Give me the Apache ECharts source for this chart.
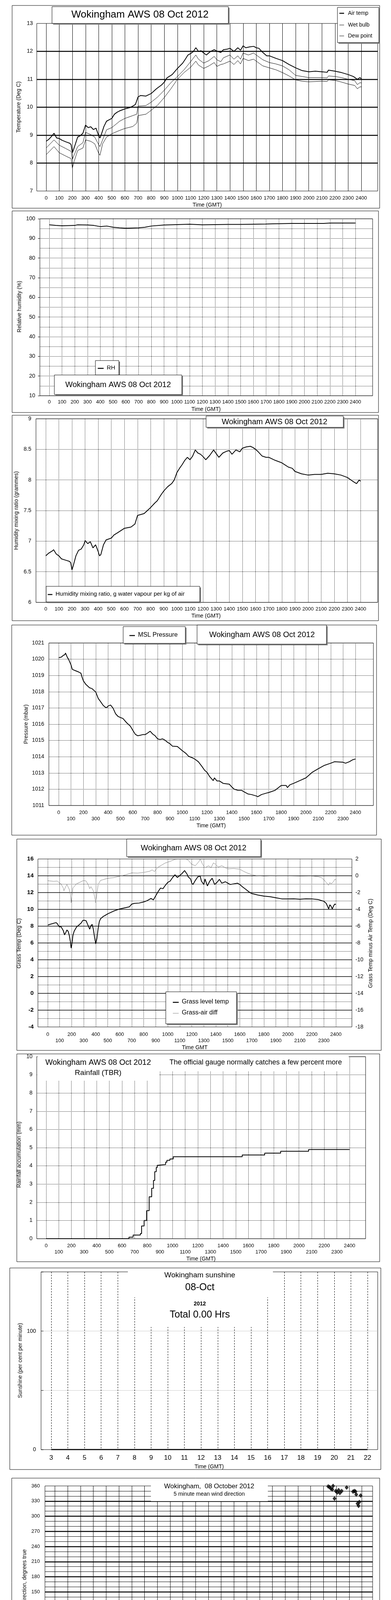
<!DOCTYPE html>
<html><head><meta charset="utf-8">
<script src="https://cdn.jsdelivr.net/npm/echarts@6/dist/echarts.min.js"></script>
<style>html,body{margin:0;padding:0;background:#fff}#c{width:1000px;height:5000px}</style>
</head><body><div id="c"></div>
<script>
// ---------------- DATA ----------------
// Panel 1: temperatures (time in HHMM-scale 0..2400)
const airTempTime = [0,20,40,60,80,100,120,150,180,190,200,210,240,260,280,300,320,340,360,380,400,410,420,440,460,480,500,520,540,560,600,640,660,680,700,720,760,800,840,880,900,920,960,1000,1040,1060,1080,1100,1120,1140,1160,1180,1200,1220,1250,1280,1300,1330,1350,1380,1400,1430,1460,1480,1500,1520,1550,1580,1600,1620,1650,1680,1700,1750,1800,1850,1900,1950,2000,2050,2100,2140,2150,2200,2250,2300,2340,2370,2390,2400];
const airTemp = [8.78,8.85,8.95,9.07,8.9,8.88,8.82,8.76,8.71,8.66,8.37,8.5,8.93,8.98,9.07,9.36,9.27,9.3,9.2,9.25,8.98,8.9,9.02,9.31,9.5,9.55,9.6,9.75,9.82,9.87,9.94,9.99,10.04,10.1,10.37,10.42,10.4,10.49,10.66,10.8,10.9,11.05,11.17,11.39,11.58,11.72,11.87,11.92,11.99,12.13,12.0,12.02,11.94,11.87,11.99,12.06,12.01,11.96,12.06,12.08,12.11,12.0,12.13,12.04,12.2,12.13,12.16,12.18,12.13,12.11,11.96,11.84,11.84,11.75,11.67,11.53,11.41,11.31,11.27,11.29,11.27,11.25,11.33,11.29,11.24,11.17,11.1,11.0,11.06,11.02];
const humidTime = [0,60,100,150,190,200,210,240,280,300,340,370,400,410,430,460,500,560,600,660,690,700,760,800,850,900,950,1000,1050,1100,1140,1160,1200,1240,1280,1300,1330,1350,1400,1430,1460,1480,1500,1540,1580,1600,1650,1700,1750,1800,1850,1900,1950,2000,2100,2140,2150,2200,2250,2300,2350,2370,2390,2400];
const wetBulb = [8.54,8.83,8.64,8.52,8.42,8.13,8.25,8.59,8.73,9.1,9.02,8.93,8.66,8.59,8.83,9.19,9.27,9.5,9.6,9.7,9.75,10.04,10.06,10.18,10.37,10.61,10.88,11.1,11.34,11.63,11.87,11.72,11.58,11.67,11.82,11.7,11.63,11.77,11.87,11.72,11.84,11.72,11.94,11.87,11.94,11.87,11.7,11.6,11.55,11.48,11.34,11.14,11.1,11.06,11.06,11.05,11.12,11.1,11.06,11.0,10.95,10.81,10.88,10.87];
const dewPoint = [8.3,8.59,8.37,8.25,8.16,7.82,8.01,8.45,8.54,8.83,8.78,8.69,8.35,8.28,8.69,8.93,9.05,9.17,9.24,9.31,9.43,9.7,9.75,9.89,10.08,10.35,10.66,11.0,11.24,11.43,11.65,11.51,11.39,11.48,11.6,11.46,11.53,11.55,11.65,11.53,11.67,11.55,11.75,11.67,11.72,11.65,11.48,11.41,11.34,11.24,11.12,10.98,10.93,10.91,10.93,10.92,10.98,10.96,10.9,10.83,10.78,10.66,10.73,10.73];
// Panel 2: relative humidity
const rhTime = [0,50,100,200,220,300,350,400,450,500,550,600,700,750,800,900,1000,1100,1200,1300,1400,1500,1600,1700,1750,1900,2150,2200,2400];
const rh = [96.9,96.6,96.4,96.6,96.9,96.8,96.6,96.0,96.3,95.7,95.4,95.2,95.4,95.7,96.3,96.8,97.0,97.2,96.9,97.0,97.1,97.1,97.2,97.3,97.4,97.6,97.6,97.8,97.8];
// Panel 3: humidity mixing ratio
const mixTime = [0,20,50,60,80,100,120,150,180,190,200,210,230,250,270,290,300,320,340,360,380,400,410,420,440,460,500,520,550,600,650,680,700,750,800,830,850,880,900,930,960,980,1000,1020,1040,1060,1080,1100,1120,1140,1160,1180,1200,1220,1250,1280,1300,1320,1350,1380,1400,1420,1450,1480,1500,1530,1560,1580,1600,1620,1650,1680,1700,1750,1800,1850,1880,1900,1950,2000,2050,2100,2150,2200,2250,2300,2340,2370,2390,2400];
const mixRatio = [6.76,6.80,6.84,6.86,6.79,6.76,6.71,6.69,6.67,6.65,6.53,6.60,6.76,6.85,6.87,6.94,7.01,6.96,6.99,6.89,6.94,6.83,6.76,6.78,6.94,7.02,7.05,7.10,7.14,7.21,7.23,7.28,7.42,7.45,7.55,7.62,7.66,7.76,7.82,7.89,7.94,8.0,8.12,8.19,8.25,8.32,8.37,8.33,8.39,8.49,8.44,8.42,8.38,8.33,8.40,8.49,8.43,8.37,8.44,8.47,8.48,8.42,8.49,8.46,8.52,8.54,8.55,8.53,8.50,8.46,8.39,8.37,8.37,8.32,8.28,8.21,8.19,8.14,8.10,8.08,8.09,8.09,8.11,8.1,8.08,8.04,7.98,7.94,8.0,7.98];
// Panel 4: MSL pressure
const presTime = [0,20,40,50,55,60,70,80,100,110,130,160,180,190,200,220,250,270,300,320,340,360,380,390,400,420,440,460,480,500,520,550,580,600,620,640,660,680,700,720,740,760,780,800,820,840,860,880,900,920,960,1000,1030,1050,1080,1100,1130,1160,1180,1200,1220,1250,1260,1280,1300,1330,1380,1400,1420,1450,1480,1500,1530,1560,1600,1610,1640,1680,1700,1750,1800,1840,1850,1870,1900,1950,2000,2050,2100,2150,2200,2230,2300,2320,2350,2380,2400];
const pressure = [1020.10,1020.12,1020.25,1020.28,1020.38,1020.30,1020.12,1020.0,1019.65,1019.38,1019.31,1019.22,1019.14,1018.88,1018.67,1018.45,1018.24,1018.19,1017.98,1017.59,1017.38,1017.16,1017.03,1017.03,1017.12,1017.18,1016.99,1016.65,1016.48,1016.41,1016.35,1016.09,1015.88,1015.62,1015.38,1015.29,1015.32,1015.36,1015.36,1015.46,1015.57,1015.40,1015.29,1015.10,1015.06,1015.10,1015.02,1014.89,1014.80,1014.65,1014.63,1014.37,1014.20,1014.03,1013.94,1013.86,1013.69,1013.39,1013.17,1013.04,1012.79,1012.53,1012.70,1012.51,1012.51,1012.36,1012.31,1012.14,1012.0,1011.93,1011.93,1011.84,1011.71,1011.67,1011.58,1011.54,1011.67,1011.76,1011.80,1011.93,1012.23,1012.23,1012.10,1012.27,1012.36,1012.53,1012.70,1013.04,1013.26,1013.47,1013.60,1013.69,1013.66,1013.60,1013.69,1013.82,1013.86];
// Panel 5: grass temperature and grass-air difference
const grassTime = [0,20,40,60,70,80,90,100,110,130,140,150,160,170,180,190,195,200,210,220,240,260,280,290,300,320,330,350,360,370,380,390,400,410,420,430,440,460,480,500,550,600,650,680,700,720,760,800,830,860,880,900,920,940,960,980,1000,1020,1040,1060,1080,1100,1120,1140,1160,1170,1190,1200,1210,1230,1250,1270,1280,1300,1310,1330,1350,1370,1390,1410,1430,1450,1480,1500,1520,1550,1580,1600,1620,1650,1680,1700,1750,1800,1850,1900,1950,2000,2050,2100,2150,2200,2250,2280,2300,2320,2340,2350,2360,2370,2380,2390,2400];
const grassTemp = [8.14,8.22,8.30,8.39,8.42,8.30,8.05,7.89,7.97,7.47,6.97,7.22,7.55,7.39,6.89,6.06,5.39,5.72,6.89,7.39,7.89,8.14,8.39,8.64,8.72,8.64,8.30,7.64,8.05,8.22,7.64,6.72,5.89,6.56,7.72,8.55,8.88,9.13,9.30,9.47,9.80,10.05,10.21,10.30,10.63,10.71,10.75,10.88,11.05,11.30,11.13,11.63,12.13,12.54,12.46,12.87,13.21,13.37,13.79,14.12,13.79,14.04,14.29,14.62,14.21,13.87,13.62,13.12,12.96,13.46,13.87,13.96,13.37,12.96,13.62,12.79,13.37,13.71,12.96,13.21,13.58,13.12,13.29,13.12,12.96,13.04,13.12,12.96,12.71,12.38,12.04,11.88,11.71,11.58,11.51,11.38,11.25,11.25,11.26,11.21,11.26,11.25,11.18,11.05,10.96,10.71,10.05,10.55,10.38,10.05,10.38,10.63,10.58];
const diffTime = [0,50,80,100,110,130,135,150,160,180,190,195,200,210,240,270,300,320,340,350,360,380,390,400,410,420,440,460,500,550,600,650,700,750,800,850,870,890,900,920,950,980,1000,1030,1060,1100,1150,1170,1200,1230,1260,1270,1290,1310,1340,1360,1380,1400,1420,1450,1480,1500,1550,1600,1630,1660,1700,1750,1800,1900,2000,2100,2200,2250,2280,2300,2320,2340,2350,2360,2380,2390,2400];
const grassAirDiff = [-0.59,-0.66,-0.63,-0.88,-0.96,-1.46,-1.79,-1.29,-1.04,-1.63,-2.29,-3.21,-2.46,-1.46,-0.96,-0.76,-0.55,-0.63,-1.13,-1.54,-1.29,-1.79,-2.46,-3.21,-2.13,-1.04,-0.55,-0.47,-0.30,-0.22,-0.05,0.12,0.34,0.32,0.40,0.54,0.70,0.50,0.73,1.03,1.28,1.53,1.61,1.78,1.95,2.0,2.0,1.86,1.36,1.20,1.70,2.0,1.36,0.95,1.20,0.95,1.53,1.36,1.03,1.20,0.95,0.83,0.87,0.78,0.54,0.34,0.12,0.0,-0.05,0.0,-0.02,-0.05,-0.03,-0.10,-0.22,-0.47,-0.80,-1.13,-0.80,-0.96,-0.71,-0.43,-0.47];
// Panel 6: rainfall accumulation (times where the total changes)
const rainTime = [0,655,688,730,745,755,775,795,815,835,849,859,871,879,885,945,955,979,1005,1551,1729,1855,2076,2400];
const rainAccum = [0,0.08,0.2,0.2,0.28,0.7,1.0,1.54,2.3,2.77,3.2,3.68,3.91,4.03,4.07,4.2,4.3,4.38,4.5,4.6,4.7,4.8,4.9,4.9];
// Panel 7: sunshine per hour 3..22
const sunHours = [3,4,5,6,7,8,9,10,11,12,13,14,15,16,17,18,19,20,21,22];
const sunshine = [0,0,0,0,0,0,0,0,0,0,0,0,0,0,0,0,0,0,0,0];
// Panel 8: 5-minute wind direction [hour, degrees]
const windDirPoints = [[0.0,80.7],[0.1,88],[0.22,92],[0.35,99],[0.47,92],[0.56,89],[0.67,80],[0.76,79],[0.86,68],[0.98,67],[1.06,59],[1.14,66],[1.26,74],[1.36,70],[1.48,72],[1.62,78],[1.73,86],[1.82,93],[1.9,76],[1.99,83],[2.07,68],[2.15,80],[2.29,80],[2.42,88],[2.58,74],[2.69,78],[2.83,76],[3.0,80],[3.08,80],[3.2,73],[3.33,84],[3.47,81.5],[3.59,76],[3.7,75],[3.84,65],[3.92,68],[4.06,78],[4.18,74],[4.29,75],[4.43,72],[4.55,78],[4.68,76],[4.81,88],[4.93,83],[5.05,85],[5.19,81.5],[5.32,72],[5.44,76],[5.57,67],[5.69,74],[5.82,80],[5.94,75],[6.06,68],[6.2,76],[6.33,76],[6.45,72],[6.57,70],[6.7,68],[6.82,54],[6.9,55],[7.04,62],[7.17,74],[7.29,75],[7.41,70],[7.54,66],[7.66,68],[7.76,76],[7.83,58],[7.96,70],[8.08,71],[8.22,79],[8.35,72],[8.43,64],[8.52,58],[8.59,46],[8.69,48],[8.77,85],[8.84,120],[8.92,48],[9.02,48],[9.11,98],[9.19,79],[9.31,80],[9.39,88],[9.48,76],[9.6,72],[9.7,66],[9.81,76],[9.93,74],[10.03,81.5],[10.15,80],[10.24,74],[10.35,87],[10.45,84],[10.57,90.6],[10.71,75],[10.82,81.5],[10.94,83],[11.04,78],[11.16,76],[11.25,70],[11.36,83],[11.46,74],[11.58,79],[11.7,70],[11.8,67],[11.92,63],[12.04,72],[12.17,58],[12.29,76],[12.39,70],[12.51,67],[12.64,63],[12.76,68],[12.84,70],[12.93,41],[13.05,66],[13.18,76],[13.27,67],[13.38,54],[13.49,66],[13.6,63],[13.7,76],[13.83,57],[13.9,50],[14.02,61],[14.14,65],[14.24,71],[14.36,65],[14.48,54],[14.58,59],[14.7,63],[14.81,67],[14.92,59],[15.03,41],[15.08,28],[15.17,49],[15.29,35],[15.37,48],[15.49,54],[15.59,50],[15.71,40],[15.79,42],[15.91,49],[16.01,46],[16.13,37],[16.21,31],[16.3,32],[16.41,27],[16.55,28],[16.67,31],[16.8,35],[16.92,33],[17.02,29],[17.14,32],[17.26,27],[17.39,31],[17.51,29],[17.64,27],[17.76,20],[17.86,25.5],[17.98,28],[18.11,25.5],[18.23,27],[18.35,24],[18.45,33],[18.57,27],[18.69,23],[18.82,24],[18.94,25.5],[19.07,28],[19.16,31],[19.24,23],[19.38,25.5],[19.49,24],[19.6,5],[19.66,10],[19.78,12.5],[19.88,16],[20.0,10],[20.12,11],[20.25,11],[20.37,10],[20.51,13],[20.63,11],[20.76,8.6],[20.88,10],[20.98,4.7],[21.09,2],[21.21,1],[21.31,2.6],[21.43,1],[22.53,7.3],[22.61,7.8],[22.69,3.4],[22.81,4.7],[22.9,3.4],[23.0,7.3],[23.08,11.7],[23.16,7.8],[23.28,3.4],[21.37,359],[21.48,357.6],[21.58,354.7],[21.69,353],[21.75,360],[21.86,335],[21.96,350],[22.08,347],[22.18,351.7],[22.28,346],[22.42,350],[22.81,357],[23.31,348.8],[23.41,350],[23.5,349],[23.56,343],[23.66,325],[23.74,320.5],[23.8,328],[23.9,341]];
// Panel 9: wind speed
const MEAN_STEP_H = 0.2; // one reading per 0.2 h
const windMean = [5.1,4.2,3.0,4.0,4.4, 3.4,2.9,3.5,3.0,3.8, 3.2,3.0,4.2,3.4,3.2, 4.0,4.4,4.2,4.6,3.8, 3.4,3.6,4.2,4.4,4.0, 4.6,4.9,4.2,3.2,2.3, 3.0,3.4,3.2,3.6,3.8, 3.4,3.6,4.2,3.6,3.2, 3.4,4.2,4.0,3.0,3.2, 3.4,4.0,4.2,3.8,4.2, 4.4,4.2,4.9,4.2,4.6, 4.4,4.2,4.9,4.6,5.3, 5.1,4.6,4.9,4.0,3.6, 4.2,4.9,4.6,4.0,3.6, 4.0,4.4,4.6,4.2,4.4, 4.6,5.1,4.2,4.4,4.2, 4.0,4.6,4.9,4.2,4.6, 4.9,5.1,4.6,5.3,5.1, 4.9,5.1,5.3,5.5,5.3, 5.7,5.1,4.4,4.2,4.0, 4.0,3.8,3.6,3.4,3.2, 3.2,2.7,3.0,2.3,2.5, 2.5,2.3,2.7,2.3,2.5, 2.3,2.1,2.3,1.9,2.1, 2.3];
const GUST_STEP_H = 0.1; // one reading per 0.1 h
const windGust = [7.0,8.0,5.0,6.5,4.5,7.5,9.3,5.0,6.0,4.5, 5.5,3.5,6.5,4.0,5.0,6.0,3.5,5.5,4.0,6.2, 3.2,5.0,4.5,6.0,3.5,5.5,4.0,9.0,5.0,7.5, 5.5,8.2,6.0,7.5,4.8,8.0,6.5,5.0,7.0,4.5, 6.0,8.0,5.0,7.5,4.5,6.5,8.0,5.0,7.5,5.5, 8.0,5.5,7.0,4.5,6.5,5.0,4.0,2.0,5.5,3.5, 6.0,4.0,6.5,4.5,7.0,5.0,6.0,4.0,6.5,3.5, 5.5,4.0,6.5,3.5,6.0,5.0,7.0,4.5,6.5,5.0, 7.5,4.5,8.0,5.0,6.0,3.5,7.0,5.0,6.5,4.5, 7.0,5.0,8.0,5.5,7.5,4.5,8.5,6.0,9.0,5.5, 7.5,5.0,8.0,10.2,6.0,8.5,5.5,9.0,6.5,8.0, 5.0,8.5,6.5,9.5,5.5,10.0,6.5,8.5,5.5,9.0, 6.0,9.5,7.0,8.5,5.5,9.8,6.0,8.0,4.5,7.5, 6.0,8.5,5.0,9.0,6.5,7.5,4.5,8.0,5.5,7.0, 6.0,9.5,6.5,8.5,5.0,7.5,6.0,8.7,5.5,7.0, 6.5,8.0,5.0,8.5,6.0,7.5,5.5,8.0,6.0,7.0, 5.5,9.0,6.0,7.5,5.0,8.0,11.2,6.0,8.5,6.5, 7.0,5.5,8.5,6.0,7.5,5.5,9.2,6.5,8.0,6.0, 7.5,5.5,8.0,6.5,7.0,5.5,8.0,6.0,7.5,6.0, 9.2,7.0,8.0,6.0,7.0,5.5,6.5,5.0,6.0,5.0, 5.5,4.5,6.0,4.5,5.5,4.0,5.0,4.5,5.5,3.5, 4.5,3.0,5.5,3.5,4.0,3.0,4.5,2.5,3.5,3.0, 4.0,2.5,3.5,4.5,3.0,4.0,2.5,3.5,3.0,4.0, 3.0,2.5,3.5,2.5,3.0,2.5,3.5,2.5,3.0,3.8];
const speedTenPoints = [[0.29,38.2],[0.34,36.3],[0.37,34.8],[0.41,33.5],[0.42,31.2],[0.46,30.0],[0.41,28.7],[0.41,28.3],[0.54,37.6],[0.58,36.7],[0.63,34.6],[0.85,39.9],[0.88,37.6],[0.88,36.5],[0.92,34.6],[0.97,31.4],[1.02,30.0],[1.05,28.7],[1.08,27.4],[1.14,30.8],[1.22,35.9],[1.25,33.5],[1.31,39.5],[1.36,38.0],[1.39,36.9],[1.42,35.4],[1.47,33.3],[1.53,31.9],[1.56,31.0],[1.64,32.9],[1.73,31.6],[1.76,30.2],[1.81,28.7],[1.85,27.4],[1.85,26.2],[1.9,24.1],[1.9,23.6],[1.98,31.2],[2.03,29.5],[2.05,37.1],[2.1,35.9],[2.15,34.6],[2.2,32.5],[2.24,30.8],[2.32,30.4],[2.37,28.7],[2.44,27.4],[2.49,30.0],[2.54,29.1],[2.66,30.8],[2.71,33.5],[2.75,35.4],[2.75,38.6],[3.08,39.9],[3.12,38.8],[3.5,38.4],[3.56,39.9],[3.53,37.1],[3.59,36.3],[3.93,38.2],[3.97,37.1],[4.02,35.9],[4.07,34.6],[4.1,32.9],[4.14,32.3],[4.2,34.0],[4.24,35.4],[4.27,37.1],[4.36,38.4],[4.44,39.0],[4.64,39.5],[4.69,38.2],[4.86,37.3],[4.95,38.2],[4.98,35.9],[5.54,38.4],[5.56,36.9],[5.63,34.4],[5.63,33.3],[5.68,31.6],[5.73,30.4],[5.76,29.1],[5.8,27.8],[5.83,26.4],[5.83,25.3],[5.8,23.8],[5.8,22.8],[5.88,28.7],[5.97,27.4],[6.0,30.4],[6.05,31.6],[6.14,32.5],[6.19,33.3],[6.27,34.2],[6.34,34.8],[6.44,32.7],[6.53,34.0],[6.59,39.2],[6.59,36.7],[6.64,38.0],[6.68,35.4],[6.78,34.2],[6.9,33.8],[6.98,32.5],[7.03,31.6],[7.12,29.1],[7.2,27.8],[7.24,26.8],[7.32,31.2],[7.41,33.8],[7.49,35.9],[7.58,37.6],[7.58,39.2],[7.66,39.9],[7.75,38.2],[7.83,40.1],[7.92,37.1],[7.97,35.4],[8.0,34.0],[8.08,32.9],[8.17,31.2],[8.25,32.1],[8.34,35.9],[8.42,38.8],[8.47,37.1],[8.51,33.8],[8.59,32.5],[8.68,30.8],[8.71,29.5],[8.76,28.7],[8.81,27.4],[8.85,26.6],[8.93,31.2],[9.02,30.0],[9.1,28.7],[9.15,33.3],[9.19,35.0],[9.22,38.0],[9.36,39.2],[9.44,38.0],[9.53,37.1],[9.61,38.8],[9.69,39.9],[9.78,37.6],[9.86,35.9],[9.95,34.4],[10.03,39.7],[10.12,36.7],[10.2,38.8],[10.29,37.6],[10.75,39.9],[11.22,39.5],[11.31,37.3],[12.15,39.9],[12.2,38.2],[12.41,39.0],[12.49,37.1],[12.58,35.9],[12.66,33.5],[12.66,32.3],[12.66,30.8],[12.71,39.5],[13.0,39.5],[13.08,37.6],[13.17,39.9],[13.34,38.2],[13.42,38.8],[13.46,36.7],[13.51,32.3],[13.56,31.2],[13.59,30.0],[13.59,28.7],[13.63,27.2],[13.68,34.6],[13.73,33.1],[13.76,37.6],[13.8,39.2],[13.85,30.8],[13.9,28.7],[13.9,27.2],[13.97,32.3],[14.02,35.9],[14.1,38.0],[14.19,39.5],[14.27,38.4],[14.34,37.3],[14.44,39.7],[14.53,38.4],[14.61,36.9],[14.64,35.0],[14.68,35.9],[14.73,34.2],[14.78,32.1],[14.85,37.6],[14.9,36.3],[14.95,35.2],[14.98,34.4],[15.03,38.8],[15.08,40.1],[15.46,39.9],[15.51,39.0],[15.54,37.1],[15.63,39.2],[16.05,39.5],[16.1,36.9],[16.14,35.9],[16.19,34.6],[16.22,32.9],[16.27,33.8],[16.34,37.1],[16.39,35.4],[16.44,38.2],[16.51,39.5],[18.59,39.7],[19.61,40.1],[19.66,39.2],[19.73,38.4],[19.78,39.9],[19.86,39.0],[19.9,37.6],[19.95,36.7],[20.03,38.4],[20.07,36.3],[20.12,39.7],[20.17,37.3],[20.2,35.7],[20.25,38.4],[20.29,39.0],[20.34,35.0],[20.41,37.6],[20.46,33.3],[20.51,31.9],[20.53,30.8],[20.58,28.3],[20.58,27.0],[20.63,33.8],[20.68,32.7],[20.71,35.0],[20.75,36.3],[20.8,30.4],[20.85,29.3],[20.88,31.6],[20.97,29.5],[21.05,30.4],[21.14,28.9],[21.19,27.4],[21.22,25.7],[21.25,24.5],[21.29,22.8],[21.34,21.1],[21.42,23.6],[21.46,25.3],[21.54,28.7],[21.63,30.0],[21.68,27.8],[21.75,27.0],[21.8,25.3],[21.86,23.2],[21.9,20.3],[21.93,18.4],[21.97,21.5],[22.05,23.6],[22.14,24.1],[22.22,22.8],[22.31,21.1],[22.36,19.8],[22.42,24.9],[22.53,23.6],[22.59,25.3],[22.69,26.6],[22.76,24.5],[22.81,22.8],[22.86,21.5],[22.92,19.8],[22.98,23.2],[23.05,25.3],[23.14,26.2],[23.2,24.1],[23.29,22.4],[23.34,21.1],[23.41,19.6],[23.46,22.8],[23.54,23.6],[23.61,21.5],[23.66,18.6],[23.73,21.9],[23.78,20.3],[23.86,24.1],[23.9,25.3]];

// ---------------- BUILD ----------------
const FONT = '"Liberation Sans", Arial, Helvetica, sans-serif';
const BLACK = '#000';
function fnt(size, weight){ return (weight||'normal')+' '+size+'px '+FONT; }
function zip(xs, ys){ return xs.map((x,i)=>[x, ys[i]]); }
function stepSeries(step, ys){ return ys.map((y,i)=>[+(i*step).toFixed(2), y]); }

const grids=[], xAxes=[], yAxes=[], series=[], graphics=[];
function lbl(size, margin, extra){ return Object.assign({show:true, color:BLACK, fontSize:size, fontFamily:FONT, margin:margin, hideOverlap:false, showMinLabel:true, showMaxLabel:true, formatter: v => String(v)}, extra||{}); }
const dotted = {show:true, lineStyle:{color:BLACK, type:'dotted', width:1}};

function pair(frame, yCfg, data, xCfg){
  const fi=grids.length;
  grids.push({left:frame.left, top:frame.top, width:frame.width, height:frame.height, show:true, borderColor:BLACK, borderWidth:1, backgroundColor:'transparent', containLabel:false});
  xAxes.push({gridIndex:fi, type:'value', min:0, max:1, show:false});
  const fy=yAxes.length;
  yAxes.push(Object.assign({gridIndex:fi, type:'value', axisLine:{show:false}, axisTick:{show:false}}, yCfg));
  const di=grids.length;
  grids.push({left:data.left, top:frame.top, width:data.width, height:frame.height, show:false, containLabel:false});
  const dx=xAxes.length;
  xAxes.push(Object.assign({gridIndex:di, type:'value', axisLine:{show:false}, axisTick:{show:false}}, xCfg));
  const dy=yAxes.length;
  yAxes.push({gridIndex:di, type:'value', min:yCfg.min, max:yCfg.max, show:false});
  return {fi, di, fy, dx, dy};
}
function line(ax, data, color, width, extra){
  series.push(Object.assign({type:'line', xAxisIndex:ax.dx, yAxisIndex:ax.dy, data:data, showSymbol:false, symbol:'none', lineStyle:{color:color, width:width}, itemStyle:{color:color}, silent:true, animation:false, z:3}, extra||{}));
}
function rect(x,y,w,h,opt){ opt=opt||{}; graphics.push({type:'rect', silent:true, z:opt.z||100, shape:{x:x,y:y,width:w,height:h}, style:{fill:opt.fill||'none', stroke:opt.stroke||null, lineWidth:opt.lw||1}}); }
function box(x,y,w,h,shadow){ if(shadow) rect(x+3,y+3,w,h,{fill:'#808080', z:99}); rect(x,y,w,h,{fill:'#fff', stroke:BLACK, z:100}); }
function txt(x,y,s,size,opt){ opt=opt||{}; graphics.push({type:'text', silent:true, z:opt.z||102, x:x, y:y, rotation:opt.rot||0, style:{text:s, font:fnt(size,opt.weight), fill:opt.color||BLACK, textAlign:opt.align||'center', textVerticalAlign:'middle', align:opt.align||'center', verticalAlign:'middle'}}); }
function seg(x1,y1,x2,y2,w,color,z){ graphics.push({type:'line', silent:true, z:z||102, shape:{x1:x1,y1:y1,x2:x2,y2:y2}, style:{stroke:color||BLACK, lineWidth:w||1}}); }
const ROT = Math.PI/2;
const twoRow = v => ((v/100)%2===0) ? String(v) : '\n'+v;

// ---- Panel 1 ----
const a1 = pair({left:94, top:60, width:872, height:429},
  {min:7, max:13, interval:1, axisLabel:lbl(14,10), splitLine:{show:true, showMinLine:false, showMaxLine:false, lineStyle:{color:BLACK, width:2.5}}},
  {left:118, width:806},
  {min:0, max:2400, interval:100, axisLabel:lbl(13,12), splitLine:{show:true, lineStyle:{color:BLACK, width:1}}});
line(a1, zip(humidTime, dewPoint), BLACK, 1);
line(a1, zip(humidTime, wetBulb), BLACK, 1);
line(a1, zip(airTempTime, airTemp), BLACK, 2);
rect(31,14,940,519,{stroke:BLACK, z:50});
box(133,17,451,43,true); txt(358,38,'Wokingham AWS 08 Oct 2012',26);
box(863,19,106,90,true);
seg(868,34,880,34,2.5); txt(890,34,'Air temp',14,{align:'left'});
seg(868,64,880,64,1); txt(890,64,'Wet bulb',14,{align:'left'});
seg(868,92,880,92,1); txt(890,92,'Dew point',14,{align:'left'});
txt(48,274,'Temperature (Deg C)',14,{rot:ROT});
txt(530,525,'Time (GMT)',14);

// ---- Panel 2 ----
const a2 = pair({left:102, top:560, width:851, height:453},
  {min:10, max:100, interval:10, axisLabel:lbl(14,12), axisTick:{show:true, length:5, lineStyle:{color:BLACK}}, splitLine:dotted, minorTick:{show:false, splitNumber:2}, minorSplitLine:dotted},
  {left:126, width:783},
  {min:0, max:2400, interval:100, axisLabel:lbl(13,10), splitLine:dotted});
line(a2, zip(rhTime, rh), BLACK, 2);
rect(31,540,937,516,{stroke:BLACK, z:50});
box(244,923,60,37,true); seg(250,943,265,943,2.5); txt(273,942,'RH',15,{align:'left'});
box(139,960,326,50,true); txt(302,985,'Wokingham AWS 08 Oct 2012',20);
txt(50,785,'Relative humidity (%)',14,{rot:ROT});
txt(527,1048,'Time (GMT)',14);

// ---- Panel 3 ----
const a3 = pair({left:92, top:1072, width:874, height:470},
  {min:6, max:9, interval:0.5, axisLabel:lbl(14,12), splitLine:dotted},
  {left:117, width:805},
  {min:0, max:2400, interval:100, axisLabel:lbl(13,11), splitLine:dotted});
line(a3, zip(mixTime, mixRatio), BLACK, 2);
rect(31,1063,937,526,{stroke:BLACK, z:50});
box(527,1065,351,29,true); txt(702,1080,'Wokingham AWS 08 Oct 2012',20);
box(118,1501,393,40,true); seg(122,1522,134,1522,2.5); txt(142,1521,'Humidity mixing ratio, g water vapour per kg of air',15,{align:'left'});
txt(42,1307,'Humidity mixing ratio (grammes)',14,{rot:ROT});
txt(527,1577,'Time (GMT)',14);

// ---- Panel 4 ----
const a4 = pair({left:125, top:1646, width:830, height:416},
  {min:1011, max:1021, interval:1, axisLabel:lbl(14,12), splitLine:dotted},
  {left:150, width:759},
  {min:0, max:2400, interval:100, axisLabel:lbl(13,10,{formatter:twoRow, lineHeight:16}), splitLine:dotted});
line(a4, zip(presTime, pressure), BLACK, 2);
rect(30,1600,933,538,{stroke:BLACK, z:50});
box(315,1604,159,43,true); seg(331,1627,345,1627,2.5); txt(353,1626,'MSL Pressure',16,{align:'left'});
box(504,1600,331,49,true); txt(670,1625,'Wokingham AWS 08 Oct 2012',20);
txt(67,1854,'Pressure (mbar)',14,{rot:ROT});
txt(540,2114,'Time (GMT)',14);

// ---- Panel 5 ----
const a5 = pair({left:97, top:2199, width:803, height:430},
  {min:-4, max:16, interval:2, axisLabel:lbl(15,11,{fontWeight:'bold'}), splitLine:{show:true, showMinLine:false, showMaxLine:false, lineStyle:{color:BLACK, width:1.5}}, minorTick:{show:false, splitNumber:2}, minorSplitLine:dotted},
  {left:122, width:737},
  {min:0, max:2400, interval:100, axisLabel:lbl(13,11,{formatter:twoRow, lineHeight:16}), splitLine:dotted});
yAxes.push({gridIndex:a5.fi, type:'value', position:'right', min:-18, max:2, interval:2, axisLine:{show:false}, axisTick:{show:false}, axisLabel:lbl(14,9), splitLine:{show:false}});
const y5r = yAxes.length;
yAxes.push({gridIndex:a5.di, type:'value', min:-18, max:2, show:false});
line({dx:a5.dx, dy:y5r}, zip(diffTime, grassAirDiff), '#808080', 1);
line(a5, zip(grassTime, grassTemp), BLACK, 2);
rect(43,2148,932,541,{stroke:BLACK, z:50});
box(324,2148,343,45,true); txt(495,2171,'Wokingham AWS 08 Oct 2012',20);
box(424,2539,181,82,true);
seg(442,2566,457,2566,2.5); txt(465,2565,'Grass level temp',16,{align:'left'});
seg(442,2594,457,2594,1,'#808080'); txt(465,2593,'Grass-air diff',16,{align:'left'});
txt(49,2415,'Grass Temp (Deg C)',14,{rot:ROT});
txt(948,2415,'Grass Temp minus Air Temp (Deg C)',14,{rot:ROT});
txt(498,2682,'Time GMT',14);

// ---- Panel 6 ----
const a6 = pair({left:94, top:2705, width:841, height:466},
  {min:0, max:10, interval:1, axisLabel:lbl(14,11), splitLine:dotted},
  {left:118, width:776},
  {min:0, max:2400, interval:100, axisLabel:lbl(13,10,{formatter:twoRow, lineHeight:16}), splitLine:dotted});
line(a6, zip(rainTime, rainAccum), BLACK, 2, {step:'end'});
rect(43,2698,928,532,{stroke:BLACK, z:50});
rect(96,2699,796,44,{fill:'#fff', z:100});
rect(96,2742,312,24,{fill:'#fff', z:100});
txt(251,2720,'Wokingham AWS 08 Oct 2012',20);
txt(654,2720,'The official gauge normally catches a few percent more',18);
txt(251,2747,'Rainfall (TBR)',19);
txt(49,2956,'Rainfall accumulation (mm)',14,{rot:ROT});
txt(514,3223,'Time (GMT)',14);

// ---- Panel 7 ----
const a7 = pair({left:105, top:3256, width:861, height:455},
  {min:0, max:150, interval:50, axisLabel:lbl(14,13,{formatter: v => (v===0||v===100) ? String(v) : ''}), axisTick:{show:true, inside:true, length:6, lineStyle:{color:BLACK}}, splitLine:{show:true, showMinLine:false, showMaxLine:false, lineStyle:{color:'#999', type:'dotted', width:1}}},
  {left:131, width:809},
  {min:3, max:22, interval:1, axisLabel:lbl(17,13), splitLine:{show:true, lineStyle:{color:BLACK, type:[4,3], width:1}}});
line(a7, zip(sunHours, sunshine), BLACK, 3);
rect(25,3246,949,516,{stroke:BLACK, z:50});
rect(327,3247,371,74,{fill:'#fff', z:100});
rect(350,3320,330,77,{fill:'#fff', z:100});
txt(511,3265,'Wokingham sunshine',19);
txt(511,3296,'08-Oct',25);
txt(511,3338,'2012',14,{weight:'bold'});
txt(511,3366,'Total 0.00 Hrs',25);
txt(52,3483,'Sunshine (per cent per minute)',14,{rot:ROT});
txt(535,3755,'Time (GMT)',14);

// ---- Panel 8 ----
const a8 = pair({left:115, top:3804, width:838, height:465},
  {min:0, max:360, interval:30, axisLabel:lbl(13,13), splitLine:{show:true, showMinLine:false, showMaxLine:false, lineStyle:{color:BLACK, width:2.5}}, minorTick:{show:false, splitNumber:3}, minorSplitLine:{show:true, lineStyle:{color:BLACK, width:1}}},
  {left:140.5, width:785},
  {min:0, max:24, interval:1, axisLabel:lbl(14,12), splitLine:{show:true, lineStyle:{color:BLACK, width:1}}});
series.push({type:'scatter', xAxisIndex:a8.dx, yAxisIndex:a8.dy, data:windDirPoints, symbol:'diamond', symbolSize:[10,12], itemStyle:{color:BLACK}, silent:true, animation:false, clip:false, z:3});
rect(30,3784,941,535,{stroke:BLACK, z:50});
rect(386,3785,299,58,{fill:'#fff', z:100});
txt(535,3805,'Wokingham,  08 October 2012',17);
txt(535,3825,'5 minute mean wind direction',14);
txt(63,4037,'Direction, degrees true',14,{rot:ROT});
txt(534,4305,'Time (GMT)',14);

// ---- Panel 9 ----
const hhmm = v => { const s=(v<10?'0':'')+v+':00'; return v%2===0 ? s : '\n'+s; };
const a9 = pair({left:89, top:4371, width:875, height:396},
  {min:0, max:50, interval:10, axisLabel:lbl(14,11), axisTick:{show:true, length:5, lineStyle:{color:BLACK}}, splitLine:dotted, minorTick:{show:false, splitNumber:2}, minorSplitLine:dotted},
  {left:113, width:772},
  {min:0, max:23, interval:1, axisLabel:lbl(13,12,{formatter:hhmm, lineHeight:15}), splitLine:dotted});
line(a9, stepSeries(GUST_STEP_H, windGust), '#505050', 1, {clip:false});
line(a9, stepSeries(MEAN_STEP_H, windMean.slice(0,120)).concat([[23.95, windMean[120]]]), BLACK, 2, {clip:false});
series.push({type:'scatter', xAxisIndex:a9.dx, yAxisIndex:a9.dy, data:speedTenPoints, symbol:'diamond', symbolSize:[10,12], itemStyle:{color:'#c8c8c8', borderColor:BLACK, borderWidth:0.8}, silent:true, animation:false, clip:false, z:4});
rect(30,4328,941,515,{stroke:BLACK, z:50});
rect(90,4368,350,4,{fill:'#fff', z:100});
txt(266,4350,'Wokingham,  08 October 2012',21);
txt(581,4340,'Wind speed, 10 min mean / max gust',15);
txt(581,4358,'Speeds below 4 kt shown at x10 scale',15);
box(738,4334,228,27,true);
seg(776,4348,786,4348,2.5); txt(792,4347,'Speed x 1',12,{align:'left'});
graphics.push({type:'polygon', silent:true, z:102, shape:{points:[[865,4341],[870,4347],[865,4353],[860,4347]]}, style:{fill:'#c8c8c8', stroke:BLACK, lineWidth:0.8}});
txt(877,4347,'Speed / 10',12,{align:'left'});
txt(44,4568,'Speed (knots)',14,{rot:ROT});
txt(527,4820,'Time (GMT)',14);

const chart = echarts.init(document.getElementById('c'), null, {renderer:'canvas', width:1000, height:5000});
chart.setOption({
  animation:false,
  backgroundColor:'#fff',
  textStyle:{fontFamily:FONT},
  grid:grids, xAxis:xAxes, yAxis:yAxes, series:series, graphic:graphics
});
</script></body></html>
